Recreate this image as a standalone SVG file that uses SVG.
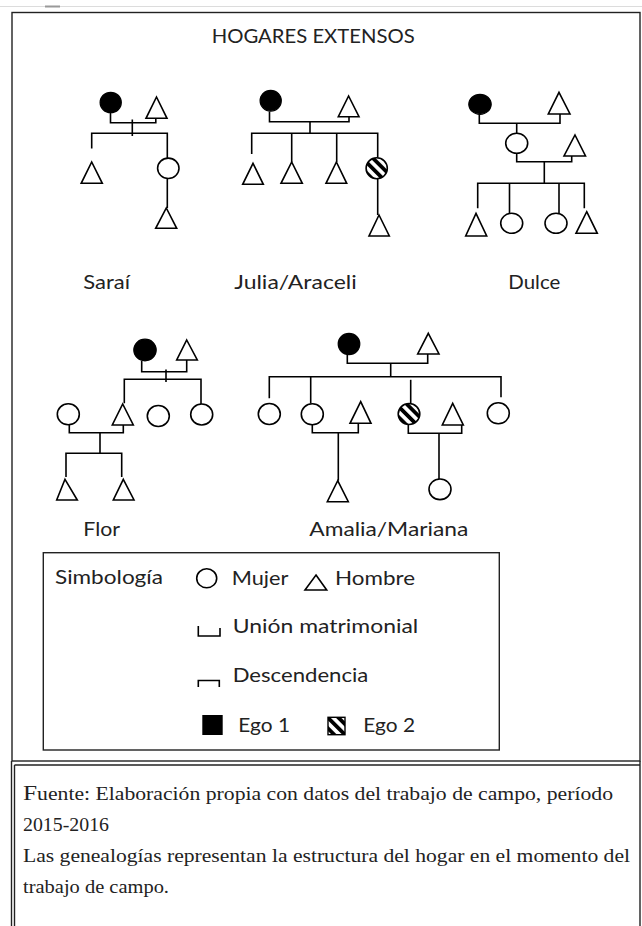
<svg xmlns="http://www.w3.org/2000/svg" width="642" height="926" viewBox="0 0 642 926">
<defs>
<pattern id="hatch" patternUnits="userSpaceOnUse" width="7.5" height="7.5" patternTransform="rotate(-45)">
<rect x="0" y="0" width="7.5" height="7.5" fill="#fff"/>
<rect x="0" y="0" width="3.8" height="7.5" fill="#000"/>
</pattern>
<style>
.ln{stroke:#000;stroke-width:1.6;fill:none}
.w{fill:#fff;stroke:#000;stroke-width:1.6}
.b{fill:#000;stroke:#000;stroke-width:1.2}
.hc{fill:url(#hatch);stroke:#000;stroke-width:1.6}
.frame{fill:none;stroke:#222;stroke-width:1.4}
.t{font-family:Lato,"Liberation Sans",sans-serif;font-size:19px;fill:#222}
.s{font-family:"Liberation Serif","DejaVu Serif",serif;font-size:18px;fill:#222}
</style>
</defs>
<rect x="0" y="0" width="642" height="926" fill="#fff"/>
<line x1="0" y1="6.5" x2="642" y2="6.5" stroke="#dcdcdc" stroke-width="1"/>
<line x1="45" y1="6.5" x2="60" y2="6.5" stroke="#999" stroke-width="2"/>
<g id="frame">
<rect class="frame" x="12" y="12.5" width="628" height="748.5"/>
<line class="frame" x1="14.5" y1="765" x2="640" y2="765"/>
<line class="frame" x1="11.5" y1="761" x2="11.5" y2="926"/>
<line class="frame" x1="14.5" y1="765" x2="14.5" y2="926"/>
<line class="frame" x1="640" y1="761" x2="640" y2="926"/>
</g>
<g id="title"><text class="t" x="211.7" y="42.7" textLength="203" lengthAdjust="spacingAndGlyphs">HOGARES EXTENSOS</text></g>

<g id="connectors">
<!-- Sarai -->
<path class="ln" d="M110.5,112.5 V122.7 H155.8 V118"/>
<path class="ln" d="M132.3,119.5 V136"/>
<path class="ln" d="M91.7,148.5 V133.3 H167.3 V158"/>
<path class="ln" d="M167.3,178.5 V208"/>
<!-- Julia/Araceli -->
<path class="ln" d="M269.5,111.5 V121.7 H349 V116.7"/>
<path class="ln" d="M310,121.7 V133.3"/>
<path class="ln" d="M251.7,154 V133.3 H377.7 V157.5"/>
<path class="ln" d="M291.7,133.3 V162"/>
<path class="ln" d="M336.7,133.3 V162"/>
<path class="ln" d="M377.7,179 V215"/>
<!-- Dulce -->
<path class="ln" d="M479.3,114.3 V123.3 H560 V114"/>
<path class="ln" d="M516.7,123.3 V133.3"/>
<path class="ln" d="M516.7,153.3 V161.7 H571.7 V156"/>
<path class="ln" d="M544.3,161.7 V183.3"/>
<path class="ln" d="M477.7,208.3 V183.3 H584.3 V208.3"/>
<path class="ln" d="M509.5,183.3 V213.3"/>
<path class="ln" d="M559,183.3 V213.3"/>
<!-- Flor -->
<path class="ln" d="M141.7,361 V371.7 H186.7 V360"/>
<path class="ln" d="M166,369.5 V382"/>
<path class="ln" d="M124.3,403.3 V379.3 H201 V404"/>
<path class="ln" d="M69.3,425 V432.7 H123.3 V425"/>
<path class="ln" d="M100,432.7 V453.3"/>
<path class="ln" d="M66,477 V453.3 H121.7 V477"/>
<!-- Amalia/Mariana -->
<path class="ln" d="M347.3,355 V363.3 H427.7 V354"/>
<path class="ln" d="M390.7,363.3 V376.7"/>
<path class="ln" d="M269.3,398.3 V376.7 H501 V397.3"/>
<path class="ln" d="M310.7,376.7 V403.5"/>
<path class="ln" d="M410.7,379.8 V403.5"/>
<path class="ln" d="M312.3,425 V432.7 H358.3 V423.3"/>
<path class="ln" d="M338.3,432.7 V480.7"/>
<path class="ln" d="M408.3,424.5 V433.3 H461.7 V425"/>
<path class="ln" d="M439,433.3 V479.3"/>
</g>

<!-- Sarai nodes -->
<g id="sarai-ego1"><ellipse class="b" cx="110.7" cy="102.5" rx="10.6" ry="10.2"/></g>
<g id="sarai-husband"><polygon class="w" points="156.5,97 167,118.3 146,118.3"/></g>
<g id="sarai-son"><polygon class="w" points="91.7,162 102.3,183.3 81.2,183.3"/></g>
<g id="sarai-daughter"><ellipse class="w" cx="168.3" cy="168.3" rx="10.7" ry="10.2"/></g>
<g id="sarai-grandson"><polygon class="w" points="166.3,208 176.7,228.3 155.7,228.3"/></g>
<g id="label-sarai"><text class="t" x="83.3" y="289.3" textLength="46.7" lengthAdjust="spacingAndGlyphs">Saraí</text></g>

<!-- Julia/Araceli nodes -->
<g id="julia-ego1"><ellipse class="b" cx="270.7" cy="100.7" rx="10.6" ry="10.4"/></g>
<g id="julia-husband"><polygon class="w" points="348.6,96 359,116.7 338.3,116.7"/></g>
<g id="julia-son1"><polygon class="w" points="253,163.3 263.3,184.3 242.7,184.3"/></g>
<g id="julia-son2"><polygon class="w" points="291.7,162 302.3,183.3 281,183.3"/></g>
<g id="julia-son3"><polygon class="w" points="336.4,162 346.7,183.3 326,183.3"/></g>
<g id="araceli-ego2"><ellipse class="hc" cx="376.7" cy="168.3" rx="10.6" ry="10.5"/></g>
<g id="araceli-son"><polygon class="w" points="379,215 389.3,236 369,236"/></g>
<g id="label-julia"><text class="t" x="234.3" y="289.3" textLength="122.4" lengthAdjust="spacingAndGlyphs">Julia/Araceli</text></g>

<!-- Dulce nodes -->
<g id="dulce-grandmother"><ellipse class="b" cx="480" cy="104.3" rx="11.2" ry="10"/></g>
<g id="dulce-grandfather"><polygon class="w" points="559,92.3 570,114 548.3,114"/></g>
<g id="dulce-mother"><ellipse class="w" cx="516.7" cy="143.3" rx="11" ry="10"/></g>
<g id="dulce-father"><polygon class="w" points="575,135 585.5,156 564,156"/></g>
<g id="dulce-c1"><polygon class="w" points="476,213.3 486.7,236 465.7,236"/></g>
<g id="dulce-c2"><ellipse class="w" cx="511.7" cy="223.3" rx="11" ry="10"/></g>
<g id="dulce-c3"><ellipse class="w" cx="556" cy="223.3" rx="11" ry="10"/></g>
<g id="dulce-c4"><polygon class="w" points="586.7,211.7 597.3,233.3 576,233.3"/></g>
<g id="label-dulce"><text class="t" x="508.3" y="289.3" textLength="52" lengthAdjust="spacingAndGlyphs">Dulce</text></g>

<!-- Flor nodes -->
<g id="flor-ego1"><ellipse class="b" cx="145" cy="350" rx="11.2" ry="10.8"/></g>
<g id="flor-husband"><polygon class="w" points="186.7,340 197.3,360 176.7,360"/></g>
<g id="flor-son"><polygon class="w" points="122.7,404 133.3,425 112.3,425"/></g>
<g id="flor-daughter1"><ellipse class="w" cx="158.3" cy="416" rx="11" ry="10.5"/></g>
<g id="flor-daughter2"><ellipse class="w" cx="201.7" cy="414.5" rx="11" ry="10.5"/></g>
<g id="flor-daughter-in-law"><ellipse class="w" cx="68.3" cy="414.3" rx="11" ry="10.5"/></g>
<g id="flor-grandson1"><polygon class="w" points="65,479.3 77.3,500 56.7,500"/></g>
<g id="flor-grandson2"><polygon class="w" points="123.3,479.3 134,500 113.3,500"/></g>
<g id="label-flor"><text class="t" x="83.3" y="535.7" textLength="36.7" lengthAdjust="spacingAndGlyphs">Flor</text></g>

<!-- Amalia/Mariana nodes -->
<g id="amalia-ego1"><ellipse class="b" cx="349" cy="344" rx="10.8" ry="10.6"/></g>
<g id="amalia-husband"><polygon class="w" points="428.3,333.3 439,354 417.7,354"/></g>
<g id="amalia-d1"><ellipse class="w" cx="269.3" cy="414" rx="11" ry="10.5"/></g>
<g id="amalia-d2"><ellipse class="w" cx="312.3" cy="414.3" rx="11" ry="10.5"/></g>
<g id="amalia-sonlaw1"><polygon class="w" points="360.7,401.7 371,423.3 350,423.3"/></g>
<g id="mariana-ego2"><ellipse class="hc" cx="409" cy="414" rx="10.8" ry="10.5"/></g>
<g id="mariana-husband"><polygon class="w" points="452.7,403.3 463.3,425 442.3,425"/></g>
<g id="amalia-d4"><ellipse class="w" cx="498.3" cy="413.3" rx="11" ry="10.5"/></g>
<g id="amalia-grandson"><polygon class="w" points="337.7,480.7 348.3,501.7 327.3,501.7"/></g>
<g id="mariana-daughter"><ellipse class="w" cx="440" cy="489.3" rx="11" ry="10.3"/></g>
<g id="label-amalia"><text class="t" x="309.3" y="535.7" textLength="159" lengthAdjust="spacingAndGlyphs">Amalia/Mariana</text></g>

<!-- Legend -->
<g id="legend">
<rect x="43.3" y="552.7" width="456" height="197.3" fill="none" stroke="#222" stroke-width="1.4"/>
<text class="t" x="55" y="584" textLength="108" lengthAdjust="spacingAndGlyphs">Simbología</text>
<ellipse class="w" cx="206.7" cy="578.3" rx="10" ry="9.5" stroke-width="1.3"/>
<text class="t" x="231.7" y="584.5" textLength="56.6" lengthAdjust="spacingAndGlyphs">Mujer</text>
<polygon class="w" points="316,575 326.7,590 305,590" stroke-width="1.3"/>
<text class="t" x="335" y="584.5" textLength="80" lengthAdjust="spacingAndGlyphs">Hombre</text>
<path class="ln" d="M198.3,626 V636 H220 V628" stroke-width="1.5"/>
<text class="t" x="232.7" y="632.7" textLength="185.6" lengthAdjust="spacingAndGlyphs">Unión matrimonial</text>
<path class="ln" d="M198.3,687 V680.5 H219.3 V687" stroke-width="1.5"/>
<text class="t" x="232.7" y="682.3" textLength="135.6" lengthAdjust="spacingAndGlyphs">Descendencia</text>
<rect x="202.3" y="715" width="20.4" height="20" fill="#000"/>
<text class="t" x="238.3" y="731.7" textLength="51.7" lengthAdjust="spacingAndGlyphs">Ego 1</text>
<rect x="328" y="717.3" width="17" height="17.4" fill="url(#hatch)" stroke="#000" stroke-width="1.4"/>
<text class="t" x="363.3" y="731.7" textLength="51.7" lengthAdjust="spacingAndGlyphs">Ego 2</text>
</g>

<!-- Footer notes -->
<g id="footer">
<text class="s" x="23" y="800" textLength="590" lengthAdjust="spacingAndGlyphs"><tspan font-size="21">F</tspan>uente: Elaboración propia con datos del trabajo de campo, período</text>
<text class="s" x="23" y="831" textLength="86" lengthAdjust="spacingAndGlyphs">2015-2016</text>
<text class="s" x="23" y="862" textLength="607" lengthAdjust="spacingAndGlyphs">Las genealogías representan la estructura del hogar en el momento del</text>
<text class="s" x="23" y="893" textLength="146" lengthAdjust="spacingAndGlyphs">trabajo de campo.</text>
</g>
</svg>
